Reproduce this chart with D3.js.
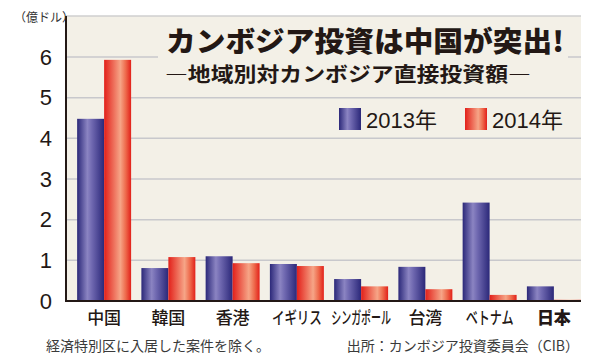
<!DOCTYPE html>
<html>
<head>
<meta charset="utf-8">
<script src="https://cdn.jsdelivr.net/npm/d3@7"></script>
<style>
  body { margin: 0; background: #fff; }
  svg { display: block; font-family: "Noto Sans CJK JP", "Noto Sans", sans-serif; }
</style>
</head>
<body>
<div id="chart"></div>
<script>
// values in 億ドル
var categories = ["中国", "韓国", "香港", "イギリス", "シンガポール", "台湾", "ベトナム", "日本"];
var years = ["2013年", "2014年"];
var v2013 = [4.48, 0.81, 1.10, 0.91, 0.54, 0.84, 2.42, 0.36];
var v2014 = [5.93, 1.08, 0.93, 0.86, 0.36, 0.29, 0.15, 0.03];
var yTicks = [0, 1, 2, 3, 4, 5, 6];

var width = 600, height = 358;
var plotLeft = 66, plotRight = 581, plotTop = 16, plotBottom = 301;

var svg = d3.select("#chart").append("svg")
    .attr("width", width)
    .attr("height", height);

// gradients for the bars
var defs = svg.append("defs");
var gBlue = defs.append("linearGradient").attr("id", "gBlue");
[[0, "#2b2879"], [0.38, "#8b84c2"], [0.55, "#6f68b0"], [1, "#2b2879"]].forEach(function(s){
    gBlue.append("stop").attr("offset", s[0]).attr("stop-color", s[1]);
});
var gRed = defs.append("linearGradient").attr("id", "gRed");
[[0, "#e2201a"], [0.6, "#f6a587"], [0.8, "#ee6a4c"], [1, "#e2201a"]].forEach(function(s){
    gRed.append("stop").attr("offset", s[0]).attr("stop-color", s[1]);
});
var fills = ["url(#gBlue)", "url(#gRed)"];

var y = d3.scaleLinear().domain([0, 6]).range([plotBottom, 57]);
var x0 = d3.scaleBand().domain(categories).range([72, 586]).paddingInner(0.16).paddingOuter(0.08);
var x1 = d3.scaleBand().domain(years).range([0, x0.bandwidth()]);

// plot background
svg.append("rect")
    .attr("x", plotLeft).attr("y", plotTop)
    .attr("width", plotRight - plotLeft).attr("height", plotBottom - plotTop)
    .attr("fill", "#f3f0e7");

// frame top line
svg.append("line")
    .attr("x1", plotLeft).attr("x2", plotRight)
    .attr("y1", plotTop).attr("y2", plotTop)
    .attr("stroke", "#cfcfcf").attr("stroke-width", 1.5);

// gridlines
svg.append("g").selectAll("line")
    .data(yTicks.filter(function(d){ return d > 0; }))
    .enter().append("line")
    .attr("x1", plotLeft).attr("x2", plotRight)
    .attr("y1", function(d){ return y(d); })
    .attr("y2", function(d){ return y(d); })
    .attr("stroke", "#c8c8cc").attr("stroke-width", 1.5);

// title box covers the top gridline
svg.append("rect")
    .attr("x", 158).attr("y", 22).attr("width", 410).attr("height", 66)
    .attr("fill", "#f3f0e7");

svg.append("text")
    .attr("x", 166).attr("y", 52)
    .attr("font-size", 28).attr("font-weight", 900)
    .attr("fill", "#231815")
    .attr("textLength", 398).attr("lengthAdjust", "spacingAndGlyphs")
    .text("カンボジア投資は中国が突出!");

svg.append("text")
    .attr("x", 165).attr("y", 82)
    .attr("font-size", 20).attr("font-weight", 700)
    .attr("fill", "#231815")
    .attr("textLength", 366).attr("lengthAdjust", "spacingAndGlyphs")
    .text("―地域別対カンボジア直接投資額―");

// bars
var data = categories.map(function(c, i){ return {cat: c, vals: [v2013[i], v2014[i]]}; });
var groups = svg.append("g").selectAll("g")
    .data(data)
    .enter().append("g")
    .attr("transform", function(d){ return "translate(" + x0(d.cat) + ",0)"; });

groups.selectAll("rect")
    .data(function(d){ return d.vals.map(function(v, j){ return {year: years[j], v: v, j: j}; }); })
    .enter().append("rect")
    .attr("x", function(d){ return x1(d.year); })
    .attr("y", function(d){ return y(d.v); })
    .attr("width", x1.bandwidth())
    .attr("height", function(d){ return plotBottom - y(d.v); })
    .attr("fill", function(d){ return fills[d.j]; });

// axes lines
svg.append("line")
    .attr("x1", plotLeft).attr("x2", plotLeft)
    .attr("y1", plotTop).attr("y2", plotBottom + 1)
    .attr("stroke", "#231815").attr("stroke-width", 2);
svg.append("line")
    .attr("x1", plotLeft - 1).attr("x2", plotRight)
    .attr("y1", plotBottom).attr("y2", plotBottom)
    .attr("stroke", "#231815").attr("stroke-width", 2);

// y tick labels
var yAxis = d3.axisLeft(y).tickValues(yTicks).tickFormat(d3.format("d")).tickSize(0).tickPadding(14);
var yg = svg.append("g").attr("transform", "translate(" + plotLeft + ",0)").call(yAxis);
yg.select(".domain").remove();
yg.attr("font-family", null).attr("font-size", null);
yg.selectAll("text")
    .style("font-family", "'Liberation Sans', Arial, sans-serif")
    .attr("font-size", 22).attr("fill", "#231815");

svg.append("text")
    .attr("x", 14).attr("y", 22)
    .attr("font-size", 12).attr("fill", "#333")
    .text("（億ドル）");

// x category labels (long katakana names are squeezed like in the print)
var labelLen = {"イギリス": 50, "シンガポール": 60, "ベトナム": 48};
var xAxis = d3.axisBottom(x0).tickSize(0).tickPadding(8);
var xg = svg.append("g").attr("transform", "translate(0," + plotBottom + ")").call(xAxis);
xg.select(".domain").remove();
xg.attr("font-family", null).attr("font-size", null);
xg.selectAll("text")
    .attr("font-size", 17)
    .attr("font-weight", function(d){ return d === "日本" ? 900 : 500; })
    .attr("fill", "#231815")
    .attr("dy", "0.9em")
    .each(function(d){
        if (labelLen[d]) {
            var w = this.getComputedTextLength();
            var k = labelLen[d] / w;
            d3.select(this).attr("transform", "scale(" + k + ",1)");
        }
    });

// legend
var legend = svg.append("g");
var legX = [339, 465];
years.forEach(function(yr, i){
    legend.append("rect")
        .attr("x", legX[i]).attr("y", 108)
        .attr("width", 22).attr("height", 22)
        .attr("fill", fills[i]);
    legend.append("text")
        .attr("x", legX[i] + 27).attr("y", 128)
        .style("font-family", "'Liberation Sans', 'Noto Sans CJK JP', sans-serif")
        .attr("font-size", 22).attr("fill", "#231815")
        .text(yr);
});

// notes
svg.append("text")
    .attr("x", 46).attr("y", 351)
    .attr("font-size", 14).attr("fill", "#3a3a3a")
    .text("経済特別区に入居した案件を除く。");
svg.append("text")
    .attr("x", 579).attr("y", 351)
    .attr("text-anchor", "end")
    .attr("font-size", 14).attr("fill", "#3a3a3a")
    .text("出所：カンボジア投資委員会（CIB）");
</script>
</body>
</html>
